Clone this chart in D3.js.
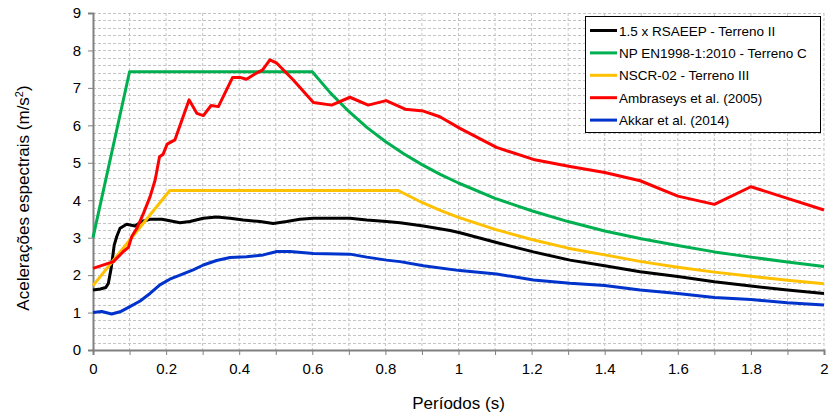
<!DOCTYPE html>
<html lang="pt">
<head>
<meta charset="UTF-8">
<title>Espectros de resposta</title>
<script src="https://cdn.jsdelivr.net/npm/d3@7/dist/d3.min.js"></script>
<style>
  body { margin: 0; background: #fff; }
  text { font-family: "Liberation Sans", Arial, sans-serif; fill: #000; }
  .narrow { font-family: "Liberation Sans Narrow", "Arial Narrow", "Liberation Sans", sans-serif; }
</style>
</head>
<body>
<svg id="chart"></svg>
<script>
// series names (legend order)
const seriesNames = [
  "1.5 x RSAEEP - Terreno II",
  "NP EN1998-1:2010 - Terreno C",
  "NSCR-02 - Terreno III",
  "Ambraseys et al. (2005)",
  "Akkar et al. (2014)"
];
const seriesColors = ["#000000", "#00b050", "#ffc000", "#ff0000", "#0033cc"];

// 1.5 x RSAEEP - Terreno II
const rsaeepT = [0, 0.02, 0.035, 0.042, 0.05, 0.058, 0.065, 0.074, 0.092, 0.115, 0.133, 0.156, 0.188, 0.21, 0.238, 0.265, 0.302, 0.338, 0.375, 0.411, 0.457, 0.493, 0.53, 0.566, 0.603, 0.703, 0.749, 0.803, 0.84, 0.904, 0.977, 1.004, 1.104, 1.205, 1.305, 1.4, 1.497, 1.6, 1.7, 1.8, 1.9, 2.0];
const rsaeepA = [1.60, 1.63, 1.67, 1.78, 2.2, 2.8, 3.03, 3.25, 3.36, 3.31, 3.43, 3.49, 3.49, 3.45, 3.40, 3.43, 3.52, 3.55, 3.52, 3.47, 3.43, 3.38, 3.43, 3.49, 3.52, 3.52, 3.47, 3.43, 3.40, 3.31, 3.19, 3.13, 2.87, 2.62, 2.40, 2.25, 2.09, 1.96, 1.82, 1.71, 1.60, 1.51];

// NP EN1998-1:2010 - Terreno C
const ecT = [0, 0.1, 0.6, 0.65, 0.7, 0.75, 0.8, 0.85, 0.9, 0.95, 1.0, 1.1, 1.2, 1.3, 1.4, 1.5, 1.6, 1.7, 1.8, 1.9, 2.0];
const ecA = [3.0, 7.43, 7.43, 6.86, 6.37, 5.94, 5.57, 5.24, 4.95, 4.69, 4.46, 4.05, 3.72, 3.43, 3.18, 2.97, 2.79, 2.62, 2.48, 2.35, 2.23];

// NSCR-02 - Terreno III
const nscrT = [0, 0.21, 0.835, 0.9, 0.95, 1.0, 1.1, 1.2, 1.3, 1.4, 1.5, 1.6, 1.7, 1.8, 1.9, 2.0];
const nscrA = [1.72, 4.26, 4.26, 3.94, 3.73, 3.54, 3.22, 2.95, 2.72, 2.54, 2.36, 2.21, 2.08, 1.97, 1.86, 1.77];

// Ambraseys et al. (2005)
const ambT = [0, 0.056, 0.083, 0.097, 0.106, 0.12, 0.138, 0.156, 0.17, 0.182, 0.192, 0.203, 0.224, 0.263, 0.284, 0.302, 0.323, 0.343, 0.382, 0.402, 0.42, 0.443, 0.464, 0.484, 0.503, 0.548, 0.603, 0.653, 0.703, 0.753, 0.802, 0.854, 0.904, 0.949, 1.004, 1.104, 1.205, 1.305, 1.4, 1.497, 1.6, 1.7, 1.8, 1.9, 2.0];
const ambA = [2.18, 2.36, 2.63, 2.74, 3.03, 3.25, 3.65, 4.09, 4.54, 5.16, 5.23, 5.50, 5.61, 6.68, 6.32, 6.26, 6.53, 6.50, 7.28, 7.28, 7.23, 7.37, 7.48, 7.75, 7.66, 7.21, 6.61, 6.54, 6.75, 6.54, 6.66, 6.43, 6.38, 6.23, 5.92, 5.41, 5.09, 4.90, 4.74, 4.52, 4.11, 3.89, 4.36, 4.05, 3.74];

// Akkar et al. (2014)
const akkT = [0, 0.024, 0.051, 0.074, 0.101, 0.129, 0.156, 0.183, 0.21, 0.238, 0.274, 0.302, 0.338, 0.375, 0.42, 0.466, 0.503, 0.539, 0.603, 0.703, 0.749, 0.803, 0.84, 0.904, 1.004, 1.104, 1.205, 1.305, 1.4, 1.497, 1.6, 1.7, 1.8, 1.9, 2.0];
const akkA = [1.00, 1.03, 0.96, 1.02, 1.16, 1.31, 1.51, 1.74, 1.89, 2.00, 2.14, 2.27, 2.39, 2.47, 2.49, 2.54, 2.63, 2.63, 2.58, 2.56, 2.48, 2.40, 2.36, 2.25, 2.12, 2.03, 1.87, 1.78, 1.72, 1.60, 1.51, 1.40, 1.35, 1.26, 1.20];

const seriesT = [rsaeepT, ecT, nscrT, ambT, akkT];
const seriesA = [rsaeepA, ecA, nscrA, ambA, akkA];

const xTicks = [0, 0.2, 0.4, 0.6, 0.8, 1, 1.2, 1.4, 1.6, 1.8, 2];
const yTicks = [0, 1, 2, 3, 4, 5, 6, 7, 8, 9];

const W = 830, H = 416;
const pL = 93, pR = 824, pT = 13, pB = 350;

const svg = d3.select('#chart').attr('width', W).attr('height', H);

const x = d3.scaleLinear().domain([0, 2]).range([pL, pR]);
const y = d3.scaleLinear().domain([0, 9]).range([pB, pT]);

// grid
const grid = svg.append('g');
grid.selectAll('line.v')
  .data(d3.range(1, 21).map(i => i / 10))
  .enter().append('line')
  .attr('x1', d => x(d)).attr('x2', d => x(d))
  .attr('y1', pT).attr('y2', pB)
  .attr('stroke', '#c4c4c4').attr('stroke-width', 1)
  .attr('stroke-dasharray', '3,2');
grid.selectAll('line.h')
  .data(d3.range(1, 46).map(i => i / 5))
  .enter().append('line')
  .attr('x1', pL).attr('x2', pR)
  .attr('y1', d => Math.round(y(d)) + 0.5).attr('y2', d => Math.round(y(d)) + 0.5)
  .attr('stroke', '#c4c4c4').attr('stroke-width', 1)
  .attr('stroke-dasharray', '3,2');

// axes
const xAxis = d3.axisBottom(x)
  .tickValues(d3.range(0, 21).map(i => i / 10))
  .tickSize(5)
  .tickFormat(d => xTicks.some(t => Math.abs(t - d) < 1e-9) ? d3.format('~g')(d) : '');
const gx = svg.append('g')
  .attr('transform', 'translate(0,' + pB + ')')
  .call(xAxis);
gx.select('.domain').attr('stroke', '#808080').attr('stroke-width', 2);
gx.selectAll('.tick line').attr('stroke', '#808080');
gx.selectAll('.tick text')
  .attr('class', 'narrow')
  .attr('font-size', 15).attr('dy', 0).attr('y', 24)
  .attr('font-family', null);

const yAxis = d3.axisLeft(y).tickValues(yTicks).tickSize(5).tickFormat(d3.format('d'));
const gy = svg.append('g')
  .attr('transform', 'translate(' + pL + ',0)')
  .call(yAxis);
gy.select('.domain').attr('stroke', '#808080').attr('stroke-width', 2);
gy.selectAll('.tick line').attr('stroke', '#808080');
gy.selectAll('.tick text')
  .attr('font-size', 15).attr('x', -12)
  .attr('font-family', null);

// series
const line = d3.line().x(d => x(d[0])).y(d => y(d[1]));
seriesNames.forEach((name, i) => {
  const pts = seriesT[i].map((t, j) => [t, seriesA[i][j]]);
  svg.append('path')
    .datum(pts)
    .attr('d', line)
    .attr('fill', 'none')
    .attr('stroke', seriesColors[i])
    .attr('stroke-width', 3)
    .attr('stroke-linejoin', 'round');
});

// axis titles
svg.append('text')
  .attr('class', 'narrow')
  .attr('x', (pL + pR) / 2).attr('y', 409)
  .attr('text-anchor', 'middle')
  .attr('font-size', 17)
  .text('Períodos (s)');

const yt = svg.append('text')
  .attr('class', 'narrow')
  .attr('transform', 'translate(29,198) rotate(-90)')
  .attr('text-anchor', 'middle')
  .attr('font-size', 17);
yt.append('tspan').text('Acelerações espectrais (m/s');
yt.append('tspan').attr('font-size', 11).attr('dy', -6).text('2');
yt.append('tspan').attr('dy', 6).text(')');

// legend
const lg = svg.append('g');
lg.append('rect')
  .attr('x', 585.5).attr('y', 16.5).attr('width', 235).attr('height', 116)
  .attr('fill', '#fff').attr('stroke', '#000').attr('stroke-width', 1);
seriesNames.forEach((name, i) => {
  const ly = 30.5 + i * 22.4;
  lg.append('line')
    .attr('x1', 590).attr('x2', 617).attr('y1', ly).attr('y2', ly)
    .attr('stroke', seriesColors[i]).attr('stroke-width', 3);
  lg.append('text')
    .attr('x', 619).attr('y', ly + 5)
    .attr('font-size', 13.5)
    .text(name);
});
</script>
</body>
</html>
